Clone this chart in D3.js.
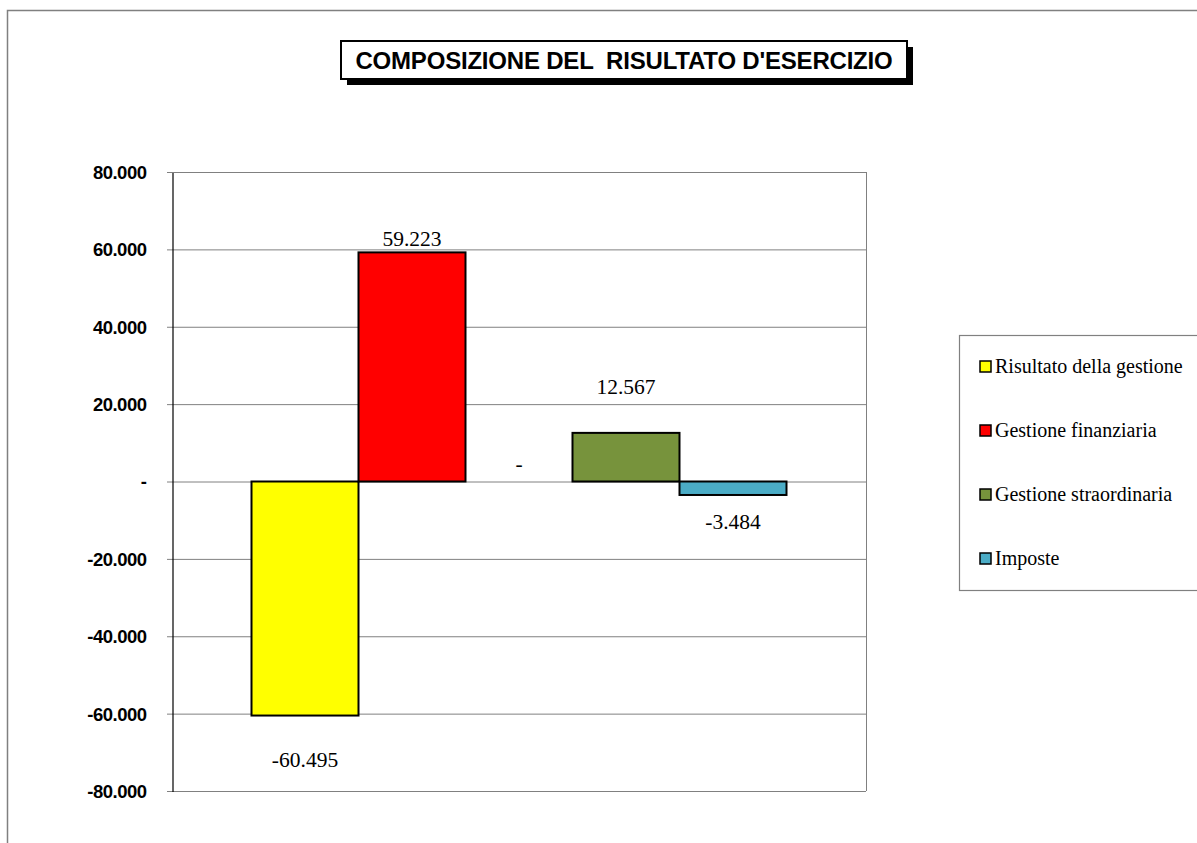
<!DOCTYPE html>
<html><head><meta charset="utf-8">
<script src="https://cdn.jsdelivr.net/npm/d3@7"></script>
<style>body{margin:0;background:#fff;}svg{display:block;}</style>
</head><body>
<script>
// ---- data ----
const seriesNames = ["Risultato della gestione","Gestione finanziaria","(vuoto)","Gestione straordinaria","Imposte"];
const seriesValues = [-60495, 59223, 0, 12567, -3484];
const seriesColors = ["#FFFF00","#FF0000","none","#77933C","#4BACC6"];
const inLegend = [true, true, false, true, true];
const yTicks = [-80000,-60000,-40000,-20000,0,20000,40000,60000,80000];
const title = "COMPOSIZIONE DEL  RISULTATO D'ESERCIZIO";
// label nudges (layout)
const labelDy = [51, -6, -11, -39, 34];

(function(){
const W = 1197, H = 843;
const svg = d3.select("body").append("svg").attr("width", W).attr("height", H);

const fmt = v => v === 0 ? "-" : d3.format(",")(v).replace(/,/g, ".").replace(/\u2212/g, "-");

// outer chart border
svg.append("path").attr("d", `M7.5,${H+5} V10.5 H${W+5}`).attr("fill","none").attr("stroke","#808080").attr("stroke-width",1.5);

// title
const tg = svg.append("g");
tg.append("rect").attr("x",347).attr("y",47).attr("width",566).attr("height",38).attr("fill","#000");
tg.append("rect").attr("x",341).attr("y",41).attr("width",566).attr("height",38).attr("fill","#fff").attr("stroke","#000").attr("stroke-width",2);
tg.append("text").attr("x",624).attr("y",69).attr("text-anchor","middle")
  .style("white-space","pre")
  .attr("font-family","Liberation Sans, Arial, sans-serif").attr("font-weight","bold").attr("font-size",24)
  .attr("letter-spacing","-0.2")
  .text(title);

// plot
const pL = 172, pR = 866, pT = 172, pB = 791;
const y = d3.scaleLinear().domain([-80000, 80000]).range([pB, pT]);
const x = d3.scaleBand().domain(d3.range(seriesNames.length)).range([pL, pR]).paddingInner(0).paddingOuter(0.743);

// gridlines
svg.append("g").selectAll("line").data(yTicks).join("line")
  .attr("x1", pL - 5).attr("x2", pR).attr("y1", d => y(d) + 0.5).attr("y2", d => y(d) + 0.5)
  .attr("stroke", "#808080").attr("stroke-width", 1);
// right border
svg.append("line").attr("x1", pR + 0.5).attr("x2", pR + 0.5).attr("y1", pT).attr("y2", pB).attr("stroke","#808080");

// y axis
const yAxis = d3.axisLeft(y).tickValues(yTicks).tickSize(0).tickPadding(26).tickFormat(fmt);
const ag = svg.append("g").attr("transform", `translate(${pL + 0.5},0.5)`).call(yAxis);
ag.select(".domain").attr("stroke","#000").attr("stroke-width",1.2);
ag.selectAll("text").attr("font-family","Liberation Sans, Arial, sans-serif").attr("font-weight","bold")
  .attr("font-size",18.5).attr("fill","#000").attr("letter-spacing","-0.5");

// bars
const data = seriesNames.map((n, i) => ({n, v: seriesValues[i], c: seriesColors[i], i}));
svg.append("g").selectAll("rect").data(data.filter(d => d.v !== 0)).join("rect")
  .attr("x", d => x(d.i)).attr("width", x.bandwidth())
  .attr("y", d => Math.min(y(d.v), y(0))).attr("height", d => Math.abs(y(d.v) - y(0)))
  .attr("fill", d => d.c).attr("stroke", "#000").attr("stroke-width", 2);

// labels
svg.append("g").selectAll("text").data(data).join("text")
  .attr("x", d => x(d.i) + x.bandwidth() / 2)
  .attr("y", d => (d.v >= 0 ? Math.min(y(d.v), y(0)) : y(d.v)) + labelDy[d.i])
  .attr("text-anchor", "middle")
  .attr("font-family", "Liberation Serif, Times New Roman, serif").attr("font-size", 21.5)
  .text(d => fmt(d.v));

// legend
const lg = svg.append("g");
lg.append("rect").attr("x",959.5).attr("y",335.5).attr("width",260).attr("height",255).attr("fill","#fff").attr("stroke","#808080").attr("stroke-width",1.2);
const legItems = data.filter(d => inLegend[d.i]);
const ly = d3.scalePoint().domain(legItems.map(d => d.n)).range([366, 558]);
const li = lg.selectAll("g").data(legItems).join("g").attr("transform", d => `translate(980,${ly(d.n)})`);
li.append("rect").attr("x",0).attr("y",-5).attr("width",11).attr("height",11).attr("fill", d => d.c).attr("stroke","#000").attr("stroke-width",1.5);
li.append("text").attr("x",15).attr("y",7).attr("font-family","Liberation Serif, Times New Roman, serif").attr("font-size",20).text(d => d.n);
})();
</script>
</body></html>
